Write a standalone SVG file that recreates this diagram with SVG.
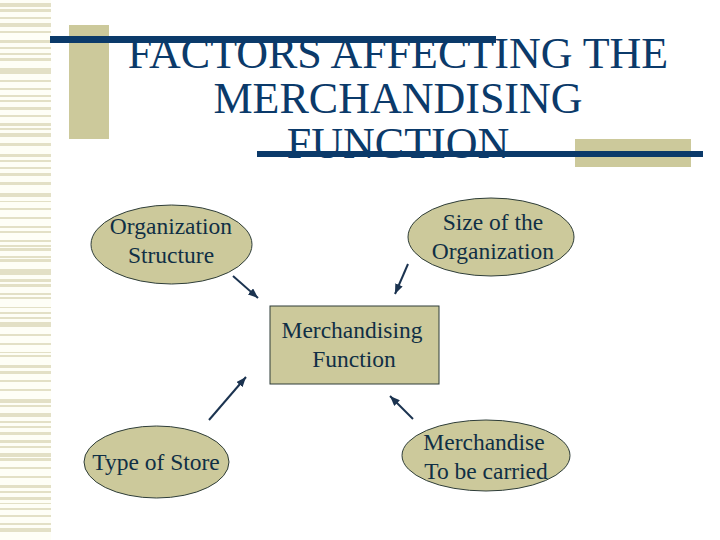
<svg xmlns="http://www.w3.org/2000/svg" width="720" height="540" viewBox="0 0 720 540">
<defs>
<style>
.stripe{fill:#e3e0c6}
.deco{fill:#ccc99b}
.bar{fill:#0b3a6a}
.title{font-family:'Liberation Serif','Times New Roman','DejaVu Serif',serif;font-size:44px;fill:#0b3a6a;text-anchor:middle}
.node{fill:#ccc99b;stroke:#2e3d38;stroke-width:1}
.label{font-family:'Liberation Serif','Times New Roman','DejaVu Serif',serif;font-size:23.5px;fill:#102f45;text-anchor:middle}
.conn{stroke:#1b3350;stroke-width:2;fill:none;marker-end:url(#arrow)}
</style>
<marker id="arrow" markerUnits="userSpaceOnUse" markerWidth="10" markerHeight="8" refX="10" refY="4" orient="auto">
<path d="M0,0 L10,4 L0,8 z" fill="#1b3350"/>
</marker>
</defs>
<rect x="0" y="0" width="720" height="540" fill="#ffffff"/>
<rect x="0" y="0" width="51" height="540" fill="#fefef6"/>
<g id="stripes">
<rect class="stripe" x="0" y="3" width="51" height="4"/>
<rect class="stripe" x="0" y="9" width="51" height="3"/>
<rect class="stripe" x="0" y="17" width="51" height="2"/>
<rect class="stripe" x="0" y="23" width="51" height="4"/>
<rect class="stripe" x="0" y="31" width="51" height="2"/>
<rect class="stripe" x="0" y="40" width="51" height="3"/>
<rect class="stripe" x="0" y="47" width="51" height="2"/>
<rect class="stripe" x="0" y="53" width="51" height="2"/>
<rect class="stripe" x="0" y="58" width="51" height="3"/>
<rect class="stripe" x="0" y="68" width="51" height="6"/>
<rect class="stripe" x="0" y="80" width="51" height="2"/>
<rect class="stripe" x="0" y="88" width="51" height="2"/>
<rect class="stripe" x="0" y="95" width="51" height="2"/>
<rect class="stripe" x="0" y="100" width="51" height="2"/>
<rect class="stripe" x="0" y="107" width="51" height="3"/>
<rect class="stripe" x="0" y="115" width="51" height="2"/>
<rect class="stripe" x="0" y="123" width="51" height="3"/>
<rect class="stripe" x="0" y="128" width="51" height="2"/>
<rect class="stripe" x="0" y="133" width="51" height="4"/>
<rect class="stripe" x="0" y="143" width="51" height="3"/>
<rect class="stripe" x="0" y="154" width="51" height="3"/>
<rect class="stripe" x="0" y="160" width="51" height="2"/>
<rect class="stripe" x="0" y="167" width="51" height="2"/>
<rect class="stripe" x="0" y="173" width="51" height="3"/>
<rect class="stripe" x="0" y="182" width="51" height="3"/>
<rect class="stripe" x="0" y="193" width="51" height="4"/>
<rect class="stripe" x="0" y="201" width="51" height="1"/>
<rect class="stripe" x="0" y="208" width="51" height="2"/>
<rect class="stripe" x="0" y="217" width="51" height="2"/>
<rect class="stripe" x="0" y="226" width="51" height="2"/>
<rect class="stripe" x="0" y="231" width="51" height="2"/>
<rect class="stripe" x="0" y="240" width="51" height="2"/>
<rect class="stripe" x="0" y="245" width="51" height="2"/>
<rect class="stripe" x="0" y="248" width="51" height="3"/>
<rect class="stripe" x="0" y="256" width="51" height="2"/>
<rect class="stripe" x="0" y="259" width="51" height="3"/>
<rect class="stripe" x="0" y="269" width="51" height="6"/>
<rect class="stripe" x="0" y="279" width="51" height="3"/>
<rect class="stripe" x="0" y="284" width="51" height="3"/>
<rect class="stripe" x="0" y="293" width="51" height="2"/>
<rect class="stripe" x="0" y="297" width="51" height="2"/>
<rect class="stripe" x="0" y="307" width="51" height="1"/>
<rect class="stripe" x="0" y="312" width="51" height="2"/>
<rect class="stripe" x="0" y="317" width="51" height="2"/>
<rect class="stripe" x="0" y="322" width="51" height="5"/>
<rect class="stripe" x="0" y="334" width="51" height="2"/>
<rect class="stripe" x="0" y="343" width="51" height="2"/>
<rect class="stripe" x="0" y="352" width="51" height="1"/>
<rect class="stripe" x="0" y="355" width="51" height="2"/>
<rect class="stripe" x="0" y="365" width="51" height="3"/>
<rect class="stripe" x="0" y="371" width="51" height="3"/>
<rect class="stripe" x="0" y="380" width="51" height="2"/>
<rect class="stripe" x="0" y="389" width="51" height="2"/>
<rect class="stripe" x="0" y="399" width="51" height="4"/>
<rect class="stripe" x="0" y="405" width="51" height="2"/>
<rect class="stripe" x="0" y="413" width="51" height="4"/>
<rect class="stripe" x="0" y="421" width="51" height="2"/>
<rect class="stripe" x="0" y="426" width="51" height="2"/>
<rect class="stripe" x="0" y="432" width="51" height="3"/>
<rect class="stripe" x="0" y="440" width="51" height="3"/>
<rect class="stripe" x="0" y="446" width="51" height="2"/>
<rect class="stripe" x="0" y="453" width="51" height="4"/>
<rect class="stripe" x="0" y="458" width="51" height="3"/>
<rect class="stripe" x="0" y="467" width="51" height="2"/>
<rect class="stripe" x="0" y="476" width="51" height="2"/>
<rect class="stripe" x="0" y="485" width="51" height="3"/>
<rect class="stripe" x="0" y="491" width="51" height="2"/>
<rect class="stripe" x="0" y="497" width="51" height="3"/>
<rect class="stripe" x="0" y="503" width="51" height="1"/>
<rect class="stripe" x="0" y="508" width="51" height="2"/>
<rect class="stripe" x="0" y="515" width="51" height="2"/>
<rect class="stripe" x="0" y="523" width="51" height="2"/>
<rect class="stripe" x="0" y="528" width="51" height="4"/>
</g>
<g id="title">
<rect class="deco" x="69" y="25" width="40" height="114"/>
<rect class="deco" x="575" y="139" width="116" height="28"/>
<text class="title" x="398" y="68" font-family="'Liberation Serif', 'DejaVu Serif', serif">FACTORS AFFECTING THE</text>
<text class="title" x="398" y="113" font-family="'Liberation Serif', 'DejaVu Serif', serif">MERCHANDISING</text>
<text class="title" x="398" y="158" font-family="'Liberation Serif', 'DejaVu Serif', serif">FUNCTION</text>
<rect class="bar" x="50" y="36" width="446" height="7"/>
<rect class="bar" x="257" y="151" width="446" height="6"/>
</g>
<g id="connectors">
<line class="conn" x1="233" y1="276" x2="258" y2="298"/>
<line class="conn" x1="408" y1="264" x2="395" y2="294"/>
<line class="conn" x1="413" y1="419" x2="390" y2="396"/>
<line class="conn" x1="209" y1="420" x2="246" y2="377"/>
</g>
<g id="org-structure">
<ellipse class="node" cx="171.5" cy="244.5" rx="80.5" ry="39.5"/>
<text class="label" x="171" y="234">Organization</text>
<text class="label" x="171" y="263">Structure</text>
</g>
<g id="org-size">
<ellipse class="node" cx="491" cy="237" rx="83" ry="39"/>
<text class="label" x="493" y="230">Size of the</text>
<text class="label" x="493" y="259">Organization</text>
</g>
<g id="merch-function">
<rect class="node" x="270" y="306" width="169" height="78"/>
<text class="label" x="352" y="338">Merchandising</text>
<text class="label" x="354" y="367">Function</text>
</g>
<g id="store-type">
<ellipse class="node" cx="156.5" cy="462" rx="72.5" ry="36"/>
<text class="label" x="156" y="470">Type of Store</text>
</g>
<g id="merchandise">
<ellipse class="node" cx="486" cy="455.5" rx="84" ry="35.5"/>
<text class="label" x="484" y="450">Merchandise</text>
<text class="label" x="486" y="479">To be carried</text>
</g>
</svg>
